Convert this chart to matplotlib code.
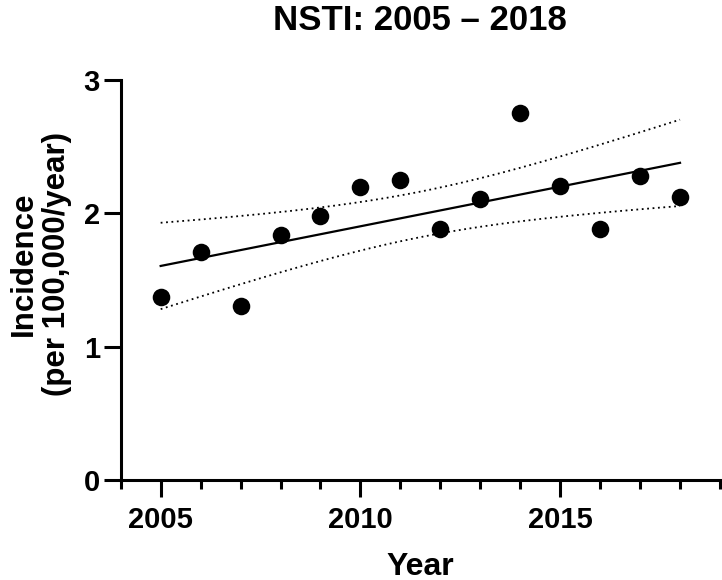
import numpy as np
import matplotlib
matplotlib.use("Agg")
import matplotlib.pyplot as plt
from matplotlib.ticker import MultipleLocator

# incidence per 100,000/year
years = np.arange(2005, 2019)
incidence = [1.37, 1.71, 1.305, 1.84, 1.98, 2.195, 2.25,
             1.8825, 2.11, 2.755, 2.205, 1.88, 2.28, 2.125]

title = 'NSTI: 2005 \u2013 2018'
x_label = 'Year'
y_label = 'Incidence\n(per 100,000/year)'
x_ticks = [2005, 2010, 2015]
y_ticks = [0, 1, 2, 3]

T_975_DF12 = 2.179  # two-sided 95% t value, 12 degrees of freedom

plt.rcParams['font.family'] = ['Liberation Sans', 'DejaVu Sans']
plt.rcParams['font.weight'] = 'bold'


def linear_fit_with_ci(x, y):
    x = np.asarray(x, float)
    y = np.asarray(y, float)
    slope, intercept = np.polyfit(x, y, 1)
    resid = y - (slope * x + intercept)
    s = np.sqrt(np.sum(resid ** 2) / (len(x) - 2))
    xx = np.linspace(x.min(), x.max(), 200)
    fit = slope * xx + intercept
    half = T_975_DF12 * s * np.sqrt(1 / len(x) + (xx - x.mean()) ** 2 / np.sum((x - x.mean()) ** 2))
    return xx, fit, fit - half, fit + half


if __name__ == '__main__':
    fig = plt.figure(figsize=(7.22, 5.8), dpi=100)
    ax = fig.add_axes([0.1672, 0.1724, 0.8300, 0.6897])

    xx, fit, lo, hi = linear_fit_with_ci(years, incidence)
    ax.plot(xx, fit, color='black', lw=1.6, zorder=2)
    ax.plot(xx, lo, color='black', lw=1.3, ls=(0, (1, 2.0)), zorder=2)
    ax.plot(xx, hi, color='black', lw=1.3, ls=(0, (1, 2.0)), zorder=2)
    ax.scatter(years, incidence, s=160, color='black', zorder=3, linewidths=0)

    ax.set_xlim(2004, 2019)
    ax.set_ylim(0, 3)
    ax.set_xticks(x_ticks)
    ax.xaxis.set_minor_locator(MultipleLocator(1))
    ax.set_yticks(y_ticks)

    for side in ['top', 'right']:
        ax.spines[side].set_visible(False)
    for side in ['left', 'bottom']:
        ax.spines[side].set_linewidth(2.2)
        ax.spines[side].set_capstyle('projecting')

    ax.tick_params(axis='both', which='major', length=12, width=2.2, labelsize=21)
    ax.tick_params(axis='x', which='minor', length=6.5, width=2.2)
    ax.tick_params(axis='x', which='major', pad=7)
    ax.tick_params(axis='y', which='major', pad=3)
    for lab in ax.get_xticklabels() + ax.get_yticklabels():
        lab.set_fontweight('bold')

    ax.set_title(title, fontsize=25, fontweight='bold', pad=36)
    ax.set_xlabel(x_label, fontsize=23, fontweight='bold', labelpad=13)
    ax.set_ylabel(y_label, fontsize=22.5, fontweight='bold', linespacing=1.12)
    ax.yaxis.set_label_coords(-0.082, 0.54)

    fig.savefig('out.png', dpi=100)
